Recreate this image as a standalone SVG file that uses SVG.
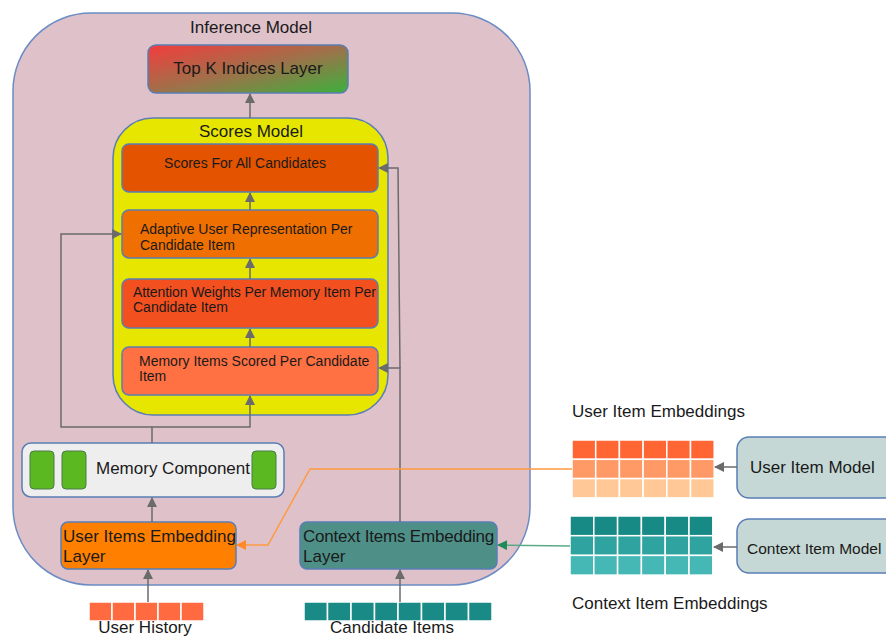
<svg xmlns="http://www.w3.org/2000/svg" width="886" height="637" viewBox="0 0 886 637">
<defs>
<linearGradient id="topk" x1="0" y1="0" x2="1" y2="1">
<stop offset="0" stop-color="#f43c3c"/>
<stop offset="0.5" stop-color="#a0704a"/>
<stop offset="1" stop-color="#3cb03c"/>
</linearGradient>
<marker id="ag" viewBox="0 0 10 10" refX="9" refY="5" markerWidth="12" markerHeight="10" markerUnits="userSpaceOnUse" orient="auto"><path d="M0,0 L10,5 L0,10 z" fill="#6b6b6b"/></marker>
<marker id="ao" viewBox="0 0 10 10" refX="9" refY="5" markerWidth="14" markerHeight="10" markerUnits="userSpaceOnUse" orient="auto"><path d="M0,0 L10,5 L0,10 z" fill="#ff8a2a"/></marker>
<marker id="agr" viewBox="0 0 10 10" refX="9" refY="5" markerWidth="14" markerHeight="10" markerUnits="userSpaceOnUse" orient="auto"><path d="M0,0 L10,5 L0,10 z" fill="#1f8a5a"/></marker>
</defs>
<style>
text{font-family:"Liberation Sans",Arial,sans-serif;fill:#1a1a1a}
.box{stroke:#5a7db5;stroke-width:1.5}
.c{stroke:#6b6b6b;stroke-width:1.5;fill:none}
.t17{font-size:17px}
.t14{font-size:14px}
.cell{stroke:#ffffff;stroke-width:1.5}
</style>
<rect width="886" height="637" fill="#ffffff"/>

<g id="inference-model">
<rect x="13" y="13" width="517" height="572" rx="78" ry="78" fill="#dfc1ca" stroke="#6b8cc4" stroke-width="1.5"/>
<text x="251" y="33" class="t17" text-anchor="middle">Inference Model</text>
</g>

<g id="top-k">
<rect x="148" y="45" width="200" height="48" rx="8" fill="url(#topk)" class="box"/>
<text x="248" y="74" class="t17" text-anchor="middle">Top K Indices Layer</text>
</g>

<g id="scores-model">
<rect x="113" y="118" width="275" height="297" rx="40" fill="#e6e600" class="box"/>
<text x="251" y="137" class="t17" text-anchor="middle">Scores Model</text>
</g>

<g id="scores-all">
<rect x="122" y="144" width="256" height="48" rx="7" fill="#e35300" class="box"/>
<text x="245" y="168" class="t14" text-anchor="middle">Scores For All Candidates</text>
</g>

<g id="adaptive">
<rect x="122" y="210" width="256" height="48" rx="7" fill="#ef6f00" class="box"/>
<text x="140" y="234" class="t14">Adaptive User Representation Per</text>
<text x="140" y="250" class="t14">Candidate Item</text>
</g>

<g id="attention">
<rect x="122" y="279" width="256" height="49" rx="7" fill="#f35020" class="box"/>
<text x="133" y="297" class="t14" style="letter-spacing:-0.1px">Attention Weights Per Memory Item Per</text>
<text x="133" y="312" class="t14">Candidate Item</text>
</g>

<g id="memory-scored">
<rect x="122" y="347" width="256" height="48" rx="7" fill="#ff7043" class="box"/>
<text x="139" y="366" class="t14">Memory Items Scored Per Candidate</text>
<text x="139" y="381" class="t14">Item</text>
</g>

<g id="memory-component">
<rect x="22" y="443" width="262" height="54" rx="9" fill="#eeeeee" class="box"/>
<rect x="30" y="451" width="24" height="38" rx="4" fill="#5cb820" stroke="#4a7a4a" stroke-width="1"/>
<rect x="62" y="451" width="24" height="38" rx="4" fill="#5cb820" stroke="#4a7a4a" stroke-width="1"/>
<rect x="252" y="451" width="24" height="38" rx="4" fill="#5cb820" stroke="#4a7a4a" stroke-width="1"/>
<text x="96" y="474" class="t17">Memory Component</text>
</g>

<g id="user-emb-layer">
<rect x="61" y="522" width="175" height="47" rx="7" fill="#ff8000" class="box"/>
<text x="63" y="542" class="t17">User Items Embedding</text>
<text x="63" y="562" class="t17">Layer</text>
</g>

<g id="context-emb-layer">
<rect x="300" y="522" width="197" height="47" rx="7" fill="#4e9088" class="box"/>
<text x="303" y="542" class="t17" style="letter-spacing:-0.2px">Context Items Embedding</text>
<text x="303" y="562" class="t17">Layer</text>
</g>

<g id="user-history">
<g fill="#ff6a40" class="cell">
<rect x="89" y="602" width="23" height="19"/>
<rect x="112" y="602" width="23" height="19"/>
<rect x="135" y="602" width="23" height="19"/>
<rect x="158" y="602" width="23" height="19"/>
<rect x="181" y="602" width="23" height="19"/>
</g>
<text x="145" y="633" class="t17" text-anchor="middle">User History</text>
</g>

<g id="candidate-items">
<g fill="#1a8a86" class="cell">
<rect x="304" y="602" width="23.5" height="19"/>
<rect x="327.5" y="602" width="23.5" height="19"/>
<rect x="351" y="602" width="23.5" height="19"/>
<rect x="374.5" y="602" width="23.5" height="19"/>
<rect x="398" y="602" width="23.5" height="19"/>
<rect x="421.5" y="602" width="23.5" height="19"/>
<rect x="445" y="602" width="23.5" height="19"/>
<rect x="468.5" y="602" width="23.5" height="19"/>
</g>
<text x="392" y="633" class="t17" text-anchor="middle">Candidate Items</text>
</g>

<g id="user-item-embeddings">
<text x="572" y="417" class="t17">User Item Embeddings</text>
<g class="cell" fill="#ff6633">
<rect x="572" y="440" width="23.7" height="19.3"/><rect x="595.7" y="440" width="23.7" height="19.3"/><rect x="619.4" y="440" width="23.7" height="19.3"/><rect x="643.1" y="440" width="23.7" height="19.3"/><rect x="666.8" y="440" width="23.7" height="19.3"/><rect x="690.5" y="440" width="23.7" height="19.3"/>
</g>
<g class="cell" fill="#ff9966">
<rect x="572" y="459.3" width="23.7" height="19.3"/><rect x="595.7" y="459.3" width="23.7" height="19.3"/><rect x="619.4" y="459.3" width="23.7" height="19.3"/><rect x="643.1" y="459.3" width="23.7" height="19.3"/><rect x="666.8" y="459.3" width="23.7" height="19.3"/><rect x="690.5" y="459.3" width="23.7" height="19.3"/>
</g>
<g class="cell" fill="#ffc896">
<rect x="572" y="478.6" width="23.7" height="19.3"/><rect x="595.7" y="478.6" width="23.7" height="19.3"/><rect x="619.4" y="478.6" width="23.7" height="19.3"/><rect x="643.1" y="478.6" width="23.7" height="19.3"/><rect x="666.8" y="478.6" width="23.7" height="19.3"/><rect x="690.5" y="478.6" width="23.7" height="19.3"/>
</g>
</g>

<g id="context-item-embeddings">
<g class="cell" fill="#178a86">
<rect x="570" y="516" width="23.8" height="19.7"/><rect x="593.8" y="516" width="23.8" height="19.7"/><rect x="617.6" y="516" width="23.8" height="19.7"/><rect x="641.4" y="516" width="23.8" height="19.7"/><rect x="665.2" y="516" width="23.8" height="19.7"/><rect x="689" y="516" width="23.8" height="19.7"/>
</g>
<g class="cell" fill="#2fa39f">
<rect x="570" y="535.7" width="23.8" height="19.7"/><rect x="593.8" y="535.7" width="23.8" height="19.7"/><rect x="617.6" y="535.7" width="23.8" height="19.7"/><rect x="641.4" y="535.7" width="23.8" height="19.7"/><rect x="665.2" y="535.7" width="23.8" height="19.7"/><rect x="689" y="535.7" width="23.8" height="19.7"/>
</g>
<g class="cell" fill="#45b8b5">
<rect x="570" y="555.4" width="23.8" height="19.7"/><rect x="593.8" y="555.4" width="23.8" height="19.7"/><rect x="617.6" y="555.4" width="23.8" height="19.7"/><rect x="641.4" y="555.4" width="23.8" height="19.7"/><rect x="665.2" y="555.4" width="23.8" height="19.7"/><rect x="689" y="555.4" width="23.8" height="19.7"/>
</g>
<text x="572" y="609" class="t17">Context Item Embeddings</text>
</g>

<g id="user-item-model">
<rect x="737" y="437" width="160" height="61" rx="12" fill="#c5d8d5" class="box"/>
<text x="750" y="473" class="t17">User Item Model</text>
</g>

<g id="context-item-model">
<rect x="737" y="519" width="160" height="54" rx="12" fill="#c5d8d5" class="box"/>
<text x="747" y="554" style="font-size:15.5px">Context Item Model</text>
</g>

<g id="connectors">
<path class="c" d="M250,118 L250,94" marker-end="url(#ag)"/>
<path class="c" d="M250,210 L250,193" marker-end="url(#ag)"/>
<path class="c" d="M250,279 L250,259" marker-end="url(#ag)"/>
<path class="c" d="M250,347 L250,329" marker-end="url(#ag)"/>
<path class="c" d="M152,443 L152,427 L250,427 L250,396" marker-end="url(#ag)"/>
<path class="c" d="M152,427 L61,427 L61,234 L121,234" marker-end="url(#ag)"/>
<path class="c" d="M152,522 L152,498" marker-end="url(#ag)"/>
<path class="c" d="M148,602 L148,570" marker-end="url(#ag)"/>
<path class="c" d="M400,602 L400,570" marker-end="url(#ag)"/>
<path class="c" d="M400,522 L400,368 L379,368" marker-end="url(#ag)"/>
<path class="c" d="M400,368 L398,168 L379,168" marker-end="url(#ag)"/>
<path class="c" d="M737,467 L715,467" marker-end="url(#ag)"/>
<path class="c" d="M737,547 L714,547" marker-end="url(#ag)"/>
<path d="M572,469 L310,469 L268,545 L237,545" fill="none" stroke="#ff9a40" stroke-width="1.5" marker-end="url(#ao)"/>
<path d="M570,546 L498,545" fill="none" stroke="#5aaa85" stroke-width="1.5" marker-end="url(#agr)"/>
</g>
</svg>
